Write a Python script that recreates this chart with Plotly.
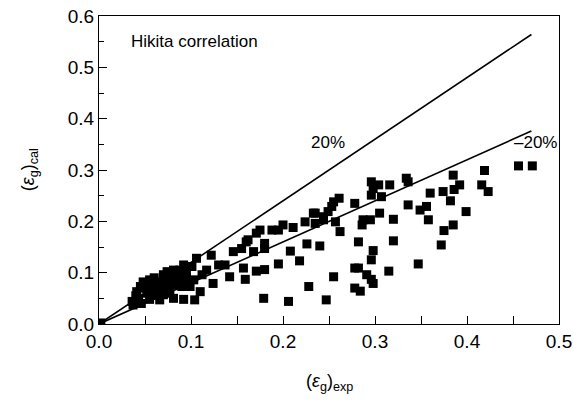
import plotly.graph_objects as go

eps_exp = [
    0.002,
    0.036, 0.037, 0.041, 0.043, 0.045, 0.046, 0.048, 0.052, 0.054, 0.055,
    0.055, 0.058, 0.061, 0.063, 0.064, 0.066, 0.068, 0.070, 0.070, 0.074,
    0.074, 0.077, 0.077, 0.081, 0.081, 0.081, 0.086, 0.088, 0.090, 0.092,
    0.092, 0.093, 0.095, 0.099, 0.101, 0.103, 0.104, 0.106, 0.110, 0.112,
    0.117, 0.122, 0.124, 0.130, 0.137,
    0.050, 0.060, 0.072, 0.085, 0.095, 0.040, 0.065, 0.088,
    0.142, 0.146, 0.155, 0.157, 0.159, 0.160, 0.162, 0.168, 0.171, 0.171,
    0.175, 0.179, 0.180, 0.180, 0.180, 0.188, 0.195, 0.195, 0.200, 0.206,
    0.208, 0.211, 0.218, 0.224, 0.226, 0.228, 0.233, 0.235, 0.235, 0.240,
    0.244, 0.247, 0.249, 0.253,
    0.244, 0.255, 0.261, 0.257, 0.262, 0.278, 0.296, 0.298, 0.296, 0.304,
    0.307, 0.316, 0.334, 0.336, 0.287, 0.295, 0.286, 0.305, 0.320, 0.336,
    0.349, 0.358, 0.282, 0.320, 0.298, 0.296, 0.278, 0.282, 0.315, 0.347,
    0.291, 0.296, 0.298, 0.255, 0.278, 0.284,
    0.456, 0.471, 0.419, 0.385, 0.392, 0.386, 0.374, 0.360, 0.382, 0.416,
    0.423, 0.356, 0.399, 0.385, 0.375, 0.372,
]
eps_cal = [
    0.002,
    0.044, 0.037, 0.063, 0.050, 0.073, 0.040, 0.082, 0.060, 0.073, 0.086,
    0.048, 0.065, 0.057, 0.070, 0.082, 0.047, 0.080, 0.057, 0.096, 0.066,
    0.102, 0.089, 0.060, 0.105, 0.076, 0.050, 0.089, 0.105, 0.073, 0.115,
    0.048, 0.086, 0.102, 0.073, 0.112, 0.086, 0.047, 0.128, 0.063, 0.096,
    0.105, 0.134, 0.079, 0.115, 0.115,
    0.070, 0.090, 0.075, 0.095, 0.090, 0.055, 0.062, 0.080,
    0.092, 0.141, 0.147, 0.109, 0.087, 0.160, 0.164, 0.141, 0.177, 0.103,
    0.183, 0.050, 0.157, 0.147, 0.106, 0.183, 0.183, 0.117, 0.193, 0.044,
    0.142, 0.188, 0.123, 0.199, 0.156, 0.073, 0.216, 0.216, 0.196, 0.152,
    0.203, 0.047, 0.219, 0.229,
    0.209, 0.238, 0.245, 0.199, 0.180, 0.235, 0.277, 0.264, 0.251, 0.271,
    0.248, 0.271, 0.284, 0.277, 0.203, 0.203, 0.193, 0.216, 0.204, 0.232,
    0.222, 0.203, 0.160, 0.162, 0.143, 0.125, 0.109, 0.109, 0.103, 0.117,
    0.096, 0.087, 0.079, 0.092, 0.070, 0.064,
    0.308, 0.308, 0.299, 0.290, 0.271, 0.262, 0.258, 0.255, 0.240, 0.271,
    0.258, 0.229, 0.219, 0.193, 0.182, 0.154,
]

# +/-20 % deviation lines
line_x = [0.0, 0.47]
dev_factors = [1.2, 0.8]
dev_labels = ["20%", "–20%"]
dev_label_pos = [(0.249, 0.353), (0.474, 0.353)]

FONT = "Liberation Sans, Arial, sans-serif"

fig = go.Figure()
fig.add_trace(go.Scatter(
    x=eps_exp, y=eps_cal, mode="markers",
    marker=dict(symbol="square", size=9, color="black", line=dict(width=0)),
    showlegend=False,
))
for f in dev_factors:
    fig.add_trace(go.Scatter(
        x=line_x, y=[f * v for v in line_x], mode="lines",
        line=dict(color="black", width=1.6), showlegend=False,
    ))

annotations = []
for lab, (ax_, ay_) in zip(dev_labels, dev_label_pos):
    annotations.append(dict(x=ax_, y=ay_, xref="x", yref="y", text=lab,
                            showarrow=False, font=dict(size=17, color="black", family=FONT)))
annotations.append(dict(x=0.0326, y=0.55, xref="x", yref="y", text="Hikita correlation",
                        xanchor="left", showarrow=False,
                        font=dict(size=17, color="black", family=FONT)))
annotations.append(dict(x=0.5, y=-0.208, xref="paper", yref="paper", yshift=-8,
                        text="(<i>ε</i><sub>g</sub>)<sub>exp</sub>",
                        showarrow=False, font=dict(size=18, color="black", family=FONT)))
annotations.append(dict(x=-0.157, y=0.5, xref="paper", yref="paper", xshift=-11,
                        text="(<i>ε</i><sub>g</sub>)<sub>cal</sub>", textangle=-90,
                        showarrow=False, font=dict(size=18, color="black", family=FONT)))

axis_common = dict(
    showgrid=False, zeroline=False, showline=True, linecolor="black", linewidth=1.2,
    mirror=True, ticks="inside", ticklen=8, tickwidth=1, tickcolor="black",
    tickfont=dict(size=19, color="black", family=FONT), tickformat=".1f",
    automargin=False,
)
fig.update_layout(
    width=574, height=403,
    margin=dict(l=99, r=15, t=16, b=79),
    paper_bgcolor="white", plot_bgcolor="white",
    xaxis=dict(range=[0, 0.5], dtick=0.1, tick0=0,
               minor=dict(dtick=0.05, ticks="inside", ticklen=8, tickcolor="black"),
               **axis_common),
    yaxis=dict(range=[0, 0.6], dtick=0.1, tick0=0,
               minor=dict(dtick=0.05, ticks="inside", ticklen=5, tickcolor="black"),
               **axis_common),
    annotations=annotations,
)
fig.write_html("out.html")
